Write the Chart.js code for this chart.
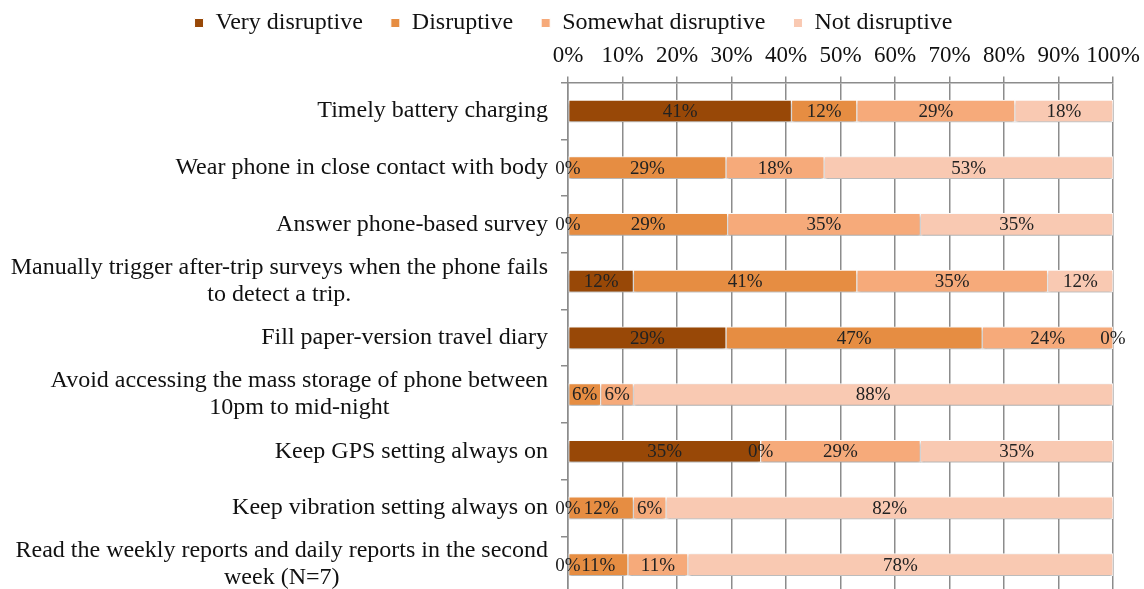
<!DOCTYPE html>
<html>
<head>
<meta charset="utf-8">
<script src="https://cdn.jsdelivr.net/npm/chart.js@4"></script>
<style>
  html, body { margin: 0; padding: 0; background: #fff; overflow: hidden; }
  #wrap { width: 1144px; height: 593px; position: relative; }
</style>
</head>
<body>
<div id="wrap"><canvas id="disruptChart"></canvas></div>
<script>
// categories (top to bottom), wrapped labels as arrays of lines
const categories = [
    ['Timely battery charging'],
    ['Wear phone in close contact with body'],
    ['Answer phone-based survey'],
    ['Manually trigger after-trip surveys when the phone fails', 'to detect a trip.'],
    ['Fill paper-version travel diary'],
    ['Avoid accessing the mass storage of phone between', '10pm to mid-night'],
    ['Keep GPS setting always on'],
    ['Keep vibration setting always on'],
    ['Read the weekly reports and daily reports in the second', 'week (N=7)']
];
const seriesNames = ['Very disruptive', 'Disruptive', 'Somewhat disruptive', 'Not disruptive'];
const veryDisruptive = [41, 0, 0, 12, 29, null, 35, 0, 0];
const disruptive = [12, 29, 29, 41, 47, 6, 0, 12, 11];
const somewhatDisruptive = [29, 18, 35, 35, 24, 6, 29, 6, 11];
const notDisruptive = [18, 53, 35, 12, 0, 88, 35, 82, 78];
const xTicks = [0, 10, 20, 30, 40, 50, 60, 70, 80, 90, 100];

const colors = ['#984807', '#E68D42', '#F6AA7A', '#F9C9B2'];
const serif = '"Liberation Serif", "Times New Roman", serif';

const raw = [veryDisruptive, disruptive, somewhatDisruptive, notDisruptive];
// 100% stacked: share of the row total
const rowSums = categories.map((c, i) => raw.reduce((s, arr) => s + (arr[i] || 0), 0));

const datasets = raw.map((arr, k) => ({
    label: seriesNames[k],
    data: arr.map((v, i) => v === null ? null : v / rowSums[i] * 100),
    rawValues: arr,
    backgroundColor: colors[k],
    borderColor: '#ffffff',
    borderWidth: 1,
    borderSkipped: false,
    barThickness: 22
}));

// soft shadow under the bars like the original
const barShadow = {
    id: 'barShadow',
    beforeDatasetsDraw(chart) {
        const ctx = chart.ctx;
        ctx.save();
        ctx.shadowColor = 'rgba(0,0,0,0.35)';
        ctx.shadowBlur = 3;
        ctx.shadowOffsetY = 2;
    },
    afterDatasetsDraw(chart) {
        chart.ctx.restore();
    }
};

// value labels in the middle of each segment
const valueLabels = {
    id: 'valueLabels',
    afterDatasetsDraw(chart) {
        const ctx = chart.ctx;
        ctx.save();
        ctx.font = '19px ' + serif;
        ctx.fillStyle = '#222';
        ctx.textAlign = 'center';
        ctx.textBaseline = 'middle';
        chart.data.datasets.forEach((ds, k) => {
            const meta = chart.getDatasetMeta(k);
            meta.data.forEach((bar, i) => {
                const v = ds.rawValues[i];
                if (v === null) return;
                ctx.fillText(v + '%', (bar.x + bar.base) / 2, bar.y + 1);
            });
        });
        ctx.restore();
    }
};

// category labels at the y scale positions
const categoryLabels = {
    id: 'categoryLabels',
    afterDraw(chart) {
        const ctx = chart.ctx;
        const yScale = chart.scales.y;
        const right = chart.chartArea.left - 20;
        const lineH = 27;
        ctx.save();
        ctx.font = '24px ' + serif;
        ctx.fillStyle = '#111';
        ctx.textBaseline = 'middle';
        categories.forEach((lines, i) => {
            const y = yScale.getPixelForValue(i);
            const top = y - (lines.length - 1) * lineH / 2;
            const w0 = ctx.measureText(lines[0]).width;
            lines.forEach((txt, j) => {
                if (j === 0) {
                    ctx.textAlign = 'right';
                    ctx.fillText(txt, right, top);
                } else {
                    ctx.textAlign = 'center';
                    ctx.fillText(txt, right - w0 / 2, top + j * lineH);
                }
            });
        });
        ctx.restore();
    }
};

const ctx1 = document.getElementById('disruptChart').getContext('2d');
const disruptChart = new Chart(ctx1, {
    type: 'bar',
    data: {
        labels: categories.map(c => c.join(' ')),
        datasets: datasets
    },
    options: {
        indexAxis: 'y',
        responsive: true,
        maintainAspectRatio: false,
        animation: false,
        layout: {
            padding: { top: -17, right: 31, bottom: 0, left: 34 }
        },
        scales: {
            x: {
                position: 'top',
                stacked: true,
                min: 0,
                max: 100,
                afterBuildTicks: function(scale) {
                    scale.ticks = xTicks.map(v => ({ value: v }));
                },
                afterFit: function(scale) {
                    scale.paddingLeft = 0;
                    scale.paddingRight = 0;
                },
                ticks: {
                    color: '#111',
                    font: { family: serif, size: 23 },
                    padding: 7,
                    maxRotation: 0,
                    autoSkip: false,
                    callback: function(value) {
                        return value + '%';
                    }
                },
                grid: {
                    color: '#8c8c8c',
                    lineWidth: 1.5,
                    tickLength: 6
                },
                border: { color: '#8c8c8c', width: 1.5 }
            },
            y: {
                stacked: true,
                afterFit: function(scale) {
                    scale.width = 534;
                },
                ticks: { display: false },
                grid: {
                    offset: true,
                    drawOnChartArea: false,
                    color: '#8c8c8c',
                    lineWidth: 1.5,
                    tickLength: 7
                },
                border: { color: '#8c8c8c', width: 1.5 }
            }
        },
        plugins: {
            legend: {
                position: 'top',
                maxHeight: 52,
                labels: {
                    color: '#111',
                    font: { family: serif, size: 24 },
                    boxWidth: 9,
                    boxHeight: 9,
                    padding: 28
                }
            },
            tooltip: { enabled: false }
        }
    },
    plugins: [barShadow, valueLabels, categoryLabels]
});
</script>
</body>
</html>
